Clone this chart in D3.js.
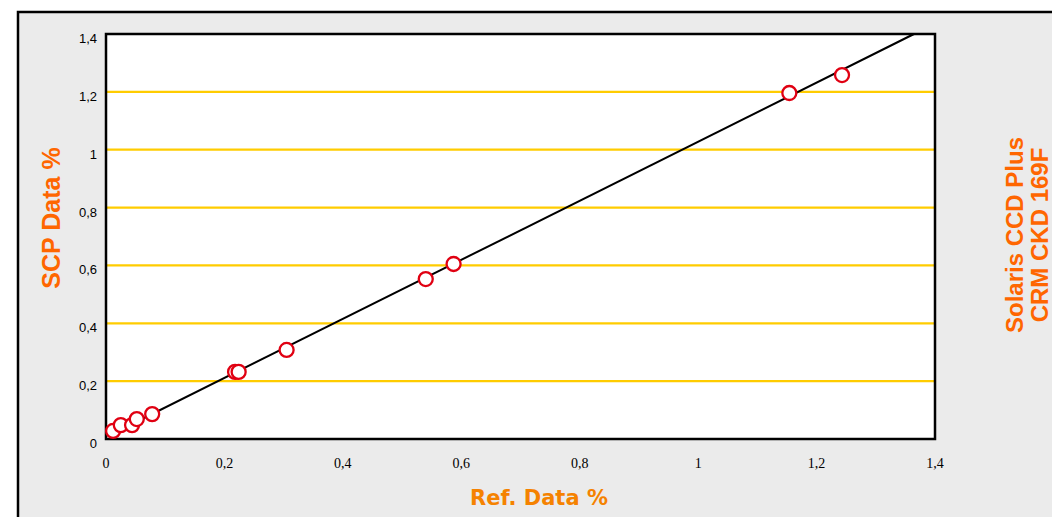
<!DOCTYPE html>
<html>
<head>
<meta charset="utf-8">
<script src="https://cdn.jsdelivr.net/npm/d3@7"></script>
<style>
  body { margin: 0; background: #fff; }
  svg { display: block; }
</style>
</head>
<body>
<div id="chart"></div>
<script>
// Reference vs SCP readings (%)
var refData = [0.012, 0.025, 0.044, 0.052, 0.078, 0.218, 0.224, 0.305, 0.540, 0.587, 1.154, 1.243]
var scpData = [0.028, 0.048, 0.048, 0.069, 0.086, 0.232, 0.232, 0.308, 0.553, 0.605, 1.196, 1.258]

// regression line end points
var fitX = [0.012, 1.3645]
var fitY = [0.019, 1.4]

var xTicks = [0, 0.2, 0.4, 0.6, 0.8, 1, 1.2, 1.4]
var yTicks = [0, 0.2, 0.4, 0.6, 0.8, 1, 1.2, 1.4]
var gridTicks = [0.2, 0.4, 0.6, 0.8, 1, 1.2]

var width = 1052
var height = 517
var plot = { left: 106, top: 34, right: 935, bottom: 439 }

var points = refData.map((d, i) => ({ x: d, y: scpData[i] }))
var fitLine = fitX.map((d, i) => ({ x: d, y: fitY[i] }))

// comma decimal format
var fmt = d => String(d).replace('.', ',')

var xScale = d3.scaleLinear()
  .domain([0, 1.4])
  .range([plot.left, plot.right])

var yScale = d3.scaleLinear()
  .domain([0, 1.4])
  .range([plot.bottom, plot.top])

var svg = d3.select('#chart')
  .append('svg')
  .attr('width', width)
  .attr('height', height)

// outer grey frame
svg.append('rect')
  .attr('x', 18)
  .attr('y', 12)
  .attr('width', 1100)
  .attr('height', 600)
  .attr('fill', '#ebebeb')
  .attr('stroke', '#000')
  .attr('stroke-width', 2.5)

// plot background
svg.append('rect')
  .attr('x', plot.left)
  .attr('y', plot.top)
  .attr('width', plot.right - plot.left)
  .attr('height', plot.bottom - plot.top)
  .attr('fill', '#fff')

// yellow grid lines
svg.selectAll('.grid')
  .data(gridTicks)
  .enter()
  .append('line')
  .attr('class', 'grid')
  .attr('x1', plot.left)
  .attr('x2', plot.right)
  .attr('y1', d => yScale(d))
  .attr('y2', d => yScale(d))
  .attr('stroke', '#ffcc00')
  .attr('stroke-width', 2.2)

// plot border
svg.append('rect')
  .attr('x', plot.left)
  .attr('y', plot.top)
  .attr('width', plot.right - plot.left)
  .attr('height', plot.bottom - plot.top)
  .attr('fill', 'none')
  .attr('stroke', '#000')
  .attr('stroke-width', 2.5)

// fit line
var line = d3.line()
  .x(d => xScale(d.x))
  .y(d => yScale(d.y))

svg.append('path')
  .datum(fitLine)
  .attr('d', line)
  .attr('fill', 'none')
  .attr('stroke', '#000')
  .attr('stroke-width', 2)

// data points
svg.selectAll('circle')
  .data(points)
  .enter()
  .append('circle')
  .attr('cx', d => xScale(d.x))
  .attr('cy', d => yScale(d.y))
  .attr('r', 7)
  .attr('fill', '#fff')
  .attr('stroke', '#e00012')
  .attr('stroke-width', 2.3)

// y tick labels
svg.selectAll('.ylab')
  .data(yTicks)
  .enter()
  .append('text')
  .attr('class', 'ylab')
  .attr('x', 97)
  .attr('y', d => yScale(d) + 9)
  .attr('text-anchor', 'end')
  .attr('font-family', 'Liberation Sans, Arial, sans-serif')
  .attr('font-size', 13)
  .attr('fill', '#000')
  .text(fmt)

// x tick labels
svg.selectAll('.xlab')
  .data(xTicks)
  .enter()
  .append('text')
  .attr('class', 'xlab')
  .attr('x', d => xScale(d))
  .attr('y', 468)
  .attr('text-anchor', 'middle')
  .attr('font-family', 'Liberation Serif, Times New Roman, serif')
  .attr('font-size', 14)
  .attr('fill', '#000')
  .text(fmt)

// axis titles
svg.append('text')
  .attr('transform', 'translate(60,218) rotate(-90)')
  .attr('text-anchor', 'middle')
  .attr('font-family', 'Liberation Sans, Arial, sans-serif')
  .attr('font-weight', 'bold')
  .attr('font-size', 25)
  .attr('fill', '#ff6600')
  .text('SCP Data %')

svg.append('text')
  .attr('x', 539)
  .attr('y', 505)
  .attr('text-anchor', 'middle')
  .attr('font-family', 'DejaVu Sans, Verdana, sans-serif')
  .attr('font-weight', 'bold')
  .attr('font-size', 21)
  .attr('fill', '#f58200')
  .text('Ref. Data %')

// side caption
var caption = ['Solaris CCD Plus', 'CRM CKD 169F']
svg.selectAll('.caption')
  .data(caption)
  .enter()
  .append('text')
  .attr('class', 'caption')
  .attr('transform', (d, i) => 'translate(' + (1023 + i * 25) + ',235) rotate(-90)')
  .attr('text-anchor', 'middle')
  .attr('font-family', 'Liberation Sans, Arial, sans-serif')
  .attr('font-weight', 'bold')
  .attr('font-size', 24)
  .attr('fill', '#ff6600')
  .text(d => d)
</script>
</body>
</html>
